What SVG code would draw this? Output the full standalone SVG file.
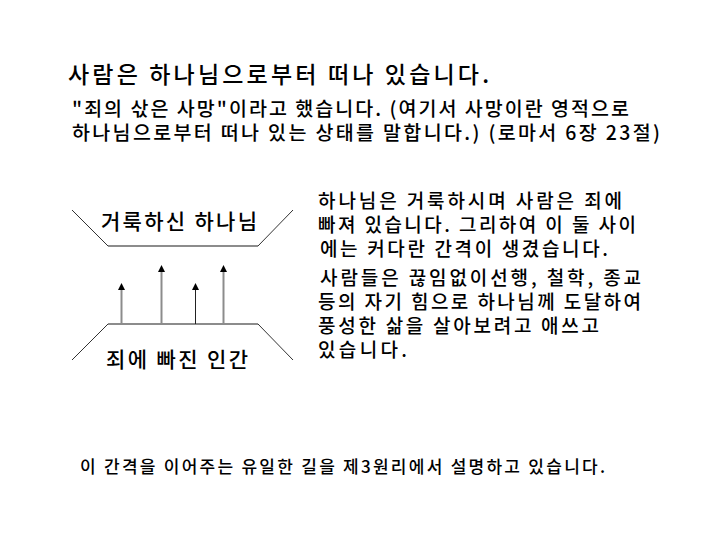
<svg xmlns="http://www.w3.org/2000/svg" width="720" height="540" viewBox="0 0 720 540">
<defs>
<style>
text{font-family:"Noto Sans CJK KR","Noto Sans",sans-serif;fill:#000;font-weight:500;}
.t1{font-size:23px;}
.t2{font-size:19.5px;}
.t3{font-size:19px;}
.lab{font-size:21px;}
.t4{font-size:17px;}
.diag{stroke:#333;stroke-width:1;fill:none;}
.bar{stroke:#8c8c8c;stroke-width:2;fill:none;}
.shaft{stroke:#8c8c8c;stroke-width:2;fill:none;marker-end:url(#ah);}
.shaftk{stroke:#222;stroke-width:1;fill:none;marker-end:url(#ah);}
</style>
<marker id="ah" markerUnits="userSpaceOnUse" markerWidth="8" markerHeight="8" refX="3" refY="3.5" orient="auto" viewBox="0 0 8 7">
<path d="M0,0 L7,3.5 L0,7 z" fill="#000"/>
</marker>
</defs>
<rect width="720" height="540" fill="#fff"/>
<g id="title">
<text class="t1" x="68" y="83" textLength="421" lengthAdjust="spacing">사람은 하나님으로부터 떠나 있습니다.</text>
</g>
<g id="intro">
<text class="t2" x="72" y="116" textLength="557" lengthAdjust="spacing">"죄의 삯은 사망"이라고 했습니다. (여기서 사망이란 영적으로</text>
<text class="t2" x="72" y="140" textLength="588" lengthAdjust="spacing">하나님으로부터 떠나 있는 상태를 말합니다.) (로마서 6장 23절)</text>
</g>
<g id="god">
<path class="diag" d="M72,210 L108,246"/>
<path class="diag" d="M258,246 L293,210"/>
<path class="bar" d="M108,246 L258,246"/>
<text class="lab" x="101" y="229" textLength="156" lengthAdjust="spacing">거룩하신 하나님</text>
</g>
<g id="man">
<path class="diag" d="M72,360 L108,324"/>
<path class="diag" d="M258,324 L293,360"/>
<path class="bar" d="M108,324 L258,324"/>
<text class="lab" x="106" y="367" textLength="142" lengthAdjust="spacing">죄에 빠진 인간</text>
</g>
<g id="connectors">
<line class="shaft" x1="121.5" y1="324" x2="121.5" y2="287"/>
<line class="shaft" x1="161.5" y1="324" x2="161.5" y2="269"/>
<line class="shaftk" x1="195.5" y1="324" x2="195.5" y2="287"/>
<line class="shaft" x1="223.5" y1="324" x2="223.5" y2="269"/>
</g>
<g id="explanation">
<text class="t3" x="318" y="208" textLength="304" lengthAdjust="spacing">하나님은 거룩하시며 사람은 죄에</text>
<text class="t3" x="318" y="232" textLength="318" lengthAdjust="spacing">빠져 있습니다. 그리하여 이 둘 사이</text>
<text class="t3" x="320" y="256" textLength="288" lengthAdjust="spacing">에는 커다란 간격이 생겼습니다.</text>
<text class="t3" x="320" y="285" textLength="321" lengthAdjust="spacing">사람들은 끊임없이선행, 철학, 종교</text>
<text class="t3" x="318" y="309" textLength="323" lengthAdjust="spacing">등의 자기 힘으로 하나님께 도달하여</text>
<text class="t3" x="318" y="333" textLength="281" lengthAdjust="spacing">풍성한 삶을 살아보려고 애쓰고</text>
<text class="t3" x="318" y="357" textLength="89" lengthAdjust="spacing">있습니다.</text>
</g>
<g id="footer">
<text class="t4" x="80" y="473" textLength="525" lengthAdjust="spacing">이 간격을 이어주는 유일한 길을 제3원리에서 설명하고 있습니다.</text>
</g>
</svg>
